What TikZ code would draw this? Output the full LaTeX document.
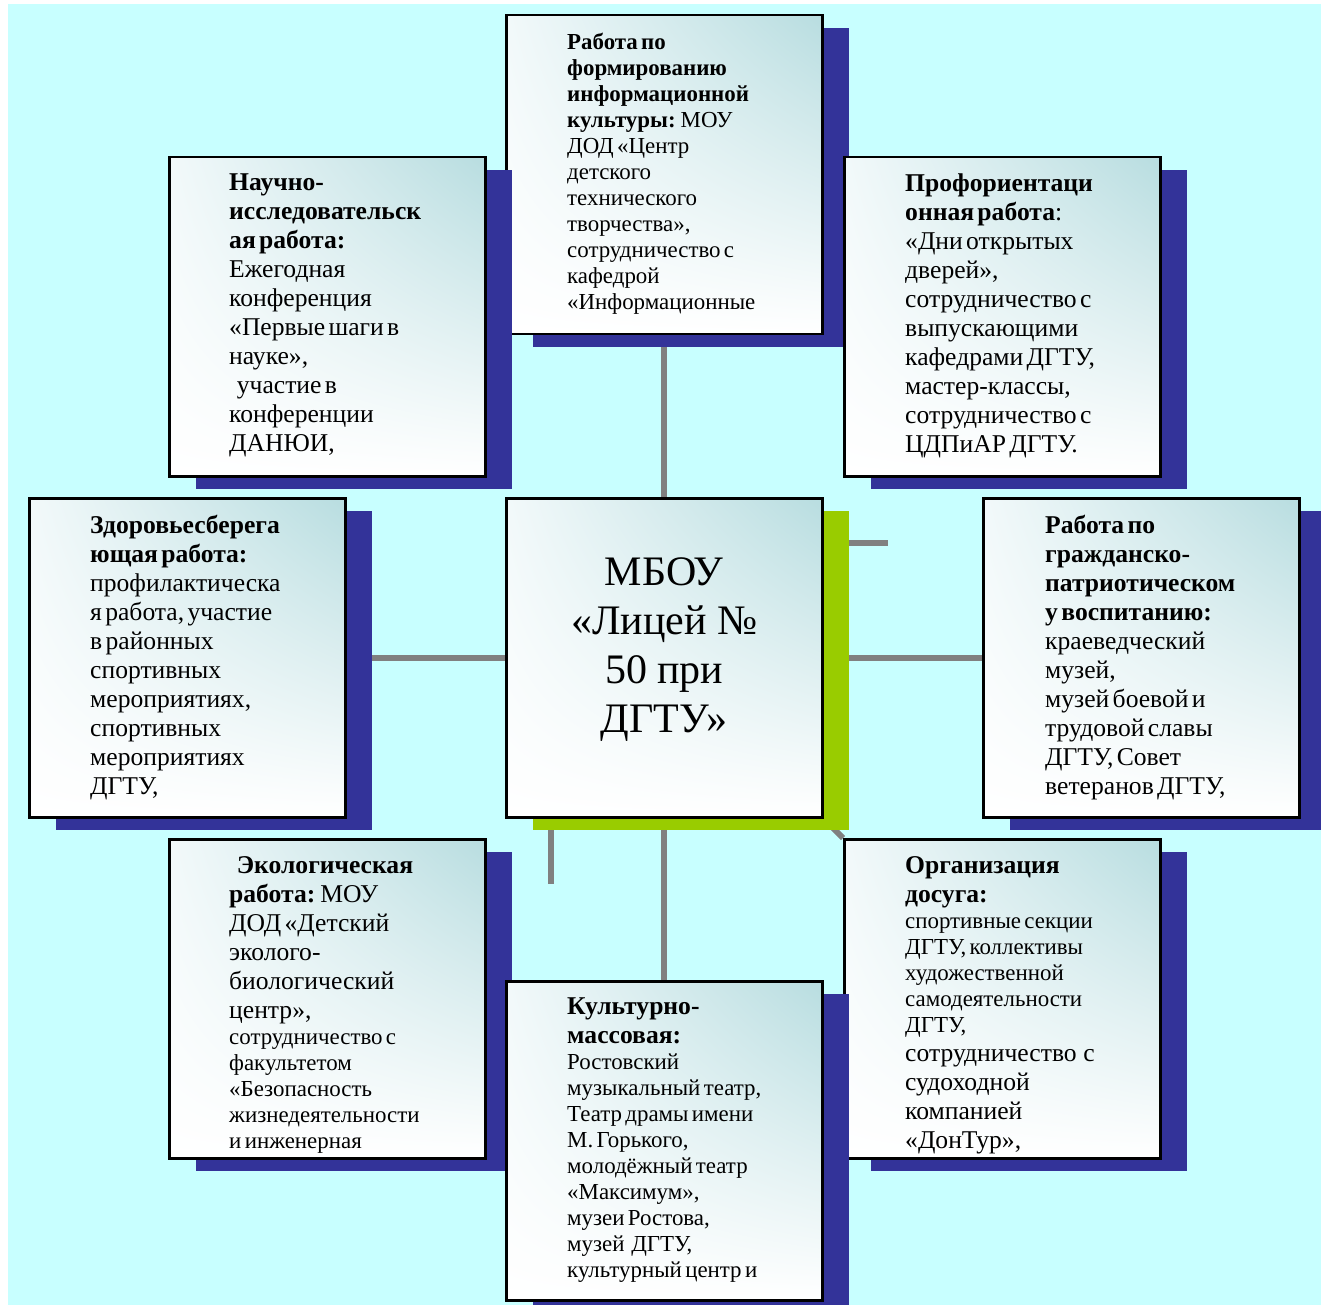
\documentclass[tikz,border=0pt]{standalone}
\usepackage{fontspec}
\setmainfont{Liberation Serif}
\usetikzlibrary{shadows,shadings}
\definecolor{bgcyan}{RGB}{200,255,255}
\definecolor{shblue}{RGB}{51,51,153}
\definecolor{shgreen}{RGB}{153,204,0}
\definecolor{linegray}{RGB}{128,128,128}
\definecolor{boxteal}{RGB}{184,221,224}
\definecolor{boxtl}{RGB}{242,249,250}
\pgfdeclarelayer{back}
\pgfdeclarelayer{lines}
\pgfsetlayers{back,lines,main}
\tikzset{
  box/.style={rectangle, draw=black, line width=2.5pt, minimum width=316pt,
    minimum height=319pt, anchor=north west, inner sep=0pt,
    upper right=boxteal, upper left=boxtl, lower left=white, lower right=white},
  blueshadow/.style={drop shadow={shadow xshift=27pt, shadow yshift=-13pt, fill=shblue, opacity=1}},
  greenshadow/.style={drop shadow={shadow xshift=27pt, shadow yshift=-13pt, fill=shgreen, opacity=1}},
  txt/.style={anchor=north west, inner sep=0pt, text width=300pt, align=left},
  conn/.style={draw=linegray, line width=6pt},
}
\newcommand{\bigsz}{\fontsize{25.6}{29}\selectfont}
\newcommand{\smlsz}{\fontsize{22.9}{26}\selectfont}
\begin{document}
\begin{tikzpicture}[x=1pt,y=-1pt]
\useasboundingbox (0,0) rectangle (1328,1305);
\begin{pgfonlayer}{back}
\fill[white] (0,0) rectangle (1328,1305);
\fill[bgcyan] (8,4) rectangle (1321,1305);
\end{pgfonlayer}

\node[box, blueshadow] (b1) at (505,14) {};
\node[box, blueshadow] (b2) at (168,156) {};
\node[box, blueshadow] (b3) at (843,156) {};
\node[box, blueshadow] (b4) at (28,497) {};
\node[box, greenshadow] (b5) at (505,497) {};
\node[box, blueshadow] (b6) at (982,497) {};
\node[box, blueshadow] (b7) at (168,838) {};
\node[box, blueshadow] (b8) at (843,838) {};
\node[box, blueshadow] (b9) at (505,980) {};

\node[txt] (t1) at ([shift={(62,19)}]b1.north west) {\smlsz
\textbf{Работа по\\ формированию\\ информационной\\ культуры:} МОУ\\ ДОД «Центр\\ детского\\ технического\\ творчества»,\\ сотрудничество с\\ кафедрой\\ «Информационные\par};

\node[txt] (t2) at ([shift={(61,18)}]b2.north west) {\bigsz
\textbf{Научно-\\ исследовательск\\ ая работа:}\\ Ежегодная\\ конференция\\ «Первые шаги в\\ науке»,\\ \hspace*{0.3em}участие в\\ конференции\\ ДАНЮИ,\par};

\node[txt] (t3) at ([shift={(62,18)}]b3.north west) {\bigsz
\textbf{Профориентаци\\ онная работа}:\\ «Дни открытых\\ дверей»,\\ сотрудничество с\\ выпускающими\\ кафедрами ДГТУ,\\ мастер-классы,\\ сотрудничество с\\ ЦДПиАР ДГТУ.\par};

\node[txt] (t4) at ([shift={(62,18)}]b4.north west) {\bigsz
\textbf{Здоровьесберега\\ ющая работа:}\\ профилактическа\\ я работа, участие\\ в районных\\ спортивных\\ мероприятиях,\\ спортивных\\ мероприятиях\\ ДГТУ,\par};

\node[anchor=center, align=center, inner sep=0pt, font=\fontsize{42}{49}\selectfont] (t5) at ([yshift=8]b5.center) {МБОУ\\ «Лицей №\\ 50 при\\ ДГТУ»};

\node[txt] (t6) at ([shift={(63,18)}]b6.north west) {\bigsz
\textbf{Работа по\\ гражданско-\\ патриотическом\\ у воспитанию:}\\ краеведческий\\ музей,\\ музей боевой и\\ трудовой славы\\ ДГТУ, Совет\\ ветеранов ДГТУ,\par};

\node[txt] (t7) at ([shift={(61,18)}]b7.north west) {\bigsz
\hspace*{0.3em}\textbf{Экологическая}\\ \textbf{работа:} МОУ\\ ДОД «Детский\\ эколого-\\ биологический\\ центр»,\par
\smlsz сотрудничество с\\ факультетом\\ «Безопасность\\ жизнедеятельности\\ и инженерная\par};

\node[txt] (t8) at ([shift={(62,18)}]b8.north west) {\bigsz
\textbf{Организация\\ досуга:}\par
\smlsz спортивные секции\\ ДГТУ, коллективы\\ художественной\\ самодеятельности\\ ДГТУ,\par
\bigsz сотрудничество\ \ с\\ судоходной\\ компанией\\ «ДонТур»,\par};

\node[txt] (t9) at ([shift={(62,18)}]b9.north west) {\bigsz
\textbf{Культурно-\\ массовая:}\par
\smlsz Ростовский\\ музыкальный театр,\\ \makebox[195pt][s]{Театр драмы имени}\\ М. Горького,\\ молодёжный театр\\ «Максимум»,\\ музеи Ростова,\\ музей\ \ ДГТУ,\\ культурный центр и\par};

\begin{pgfonlayer}{lines}
\draw[conn] (b1.south) -- (b5.north);
\draw[conn] (b4.east) -- (b5.west);
\draw[conn] (b5.east) -- (b6.west);
\draw[conn] (b5.south) -- (b9.north);
\draw[conn] (b5.south east) -- (b8.north west);
\coordinate (s1) at (551,884);
\draw[conn] (b5.south -| s1) -- (s1);
\coordinate (s2) at (888,543);
\draw[conn] (b5.east |- s2) -- (s2);
\end{pgfonlayer}

\fill[white] (1321,0) rectangle (1328,1305);
\end{tikzpicture}
\end{document}
